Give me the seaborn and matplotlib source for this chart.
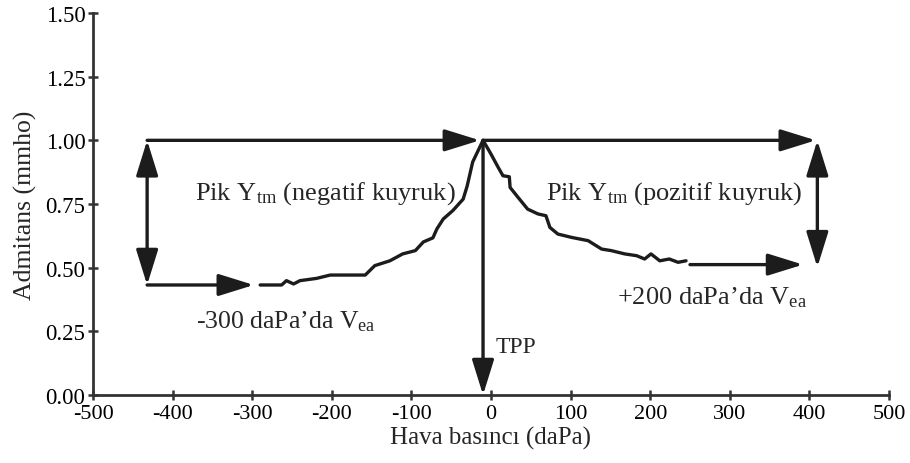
import numpy as np
import pandas as pd
import matplotlib
matplotlib.use("Agg")
import matplotlib.pyplot as plt
import seaborn as sns

# ---- data ----
pressure = [-290, -263, -257, -248, -240, -219, -202, -158, -146, -127, -111, -95, -85, -73,
            -68, -60, -48, -35, -30, -23, -10,
            0, 9, 15, 23, 24, 34, 46, 59, 69, 74, 84, 101, 122, 139, 151, 168, 183, 193,
            201, 212, 224, 235, 245]
admittance = [0.432, 0.432, 0.449, 0.436, 0.449, 0.458, 0.471, 0.471, 0.508, 0.527, 0.554, 0.567,
              0.601, 0.617, 0.652, 0.691, 0.724, 0.769, 0.82, 0.915, 1.0,
              0.946, 0.894, 0.861, 0.857, 0.815, 0.776, 0.730, 0.711, 0.704, 0.658, 0.632,
              0.619, 0.606, 0.573, 0.567, 0.554, 0.547, 0.534, 0.554, 0.527, 0.534, 0.521, 0.527]

xticks = [-500, -400, -300, -200, -100, 0, 100, 200, 300, 400, 500]
yticks = [0.00, 0.25, 0.50, 0.75, 1.00, 1.25, 1.50]

peak_p, peak_y = -10, 1.0          # TPP / peak admittance
neg_tail_p, neg_tail_y = -432, 0.432  # reference line on negative side
neg_arrow_end = -298
pos_tail_p, pos_tail_y = 402, 0.512   # reference line on positive side
pos_arrow_start = 250

xlabel = "Hava basıncı (daPa)"
ylabel = "Admitans (mmho)"
label_neg = "Pik Y$_{\\mathrm{tm}}$ (negatif kuyruk)"
label_pos = "Pik Y$_{\\mathrm{tm}}$ (pozitif kuyruk)"
label_neg_v = "-300 daPa’da V$_{\\mathrm{ea}}$"
label_pos_v = "+200 daPa’da V$_{\\mathrm{ea}}$"
label_tpp = "TPP"

sns.set_style("ticks")
plt.rcParams["font.family"] = ["Liberation Serif", "DejaVu Serif"]
plt.rcParams["mathtext.fontset"] = "custom"
plt.rcParams["mathtext.rm"] = "Liberation Serif"
plt.rcParams["mathtext.it"] = "Liberation Serif:italic"

fig = plt.figure(figsize=(9.1, 4.64), dpi=100)
ax = fig.add_axes([93 / 910, 68 / 464, 796 / 910, 382 / 464])

df = pd.DataFrame({"p": pressure, "y": admittance})
ink = "#1c1c1c"
sns.lineplot(data=df, x="p", y="y", ax=ax, color=ink, lw=2.4, sort=False,
             solid_joinstyle="round", solid_capstyle="round")

ax.set_xlim(-500, 500)
ax.set_ylim(0, 1.5)
ax.set_xticks(xticks)
ax.set_xticklabels([str(t) for t in xticks], fontsize=16)
ax.set_yticks(yticks)
ax.set_yticklabels([f"{t:.2f}" for t in yticks], fontsize=16.5)
ax.tick_params(axis="both", direction="inout", length=7, width=1.8, colors="#333333",
               labelcolor="black")
ax.tick_params(axis="x", pad=3)
ax.tick_params(axis="y", pad=2)
for s in ["top", "right"]:
    ax.spines[s].set_visible(False)
for s in ["left", "bottom"]:
    ax.spines[s].set_linewidth(2.0)
    ax.spines[s].set_color("#333333")
ax.set_xlabel(xlabel, fontsize=18, labelpad=2)
ax.set_ylabel(ylabel, fontsize=18.5, labelpad=6)

def arrow(x0, y0, x1, y1, both=False):
    style = "<|-|>" if both else "-|>"
    ax.annotate("", xy=(x1, y1), xytext=(x0, y0), xycoords="data",
                arrowprops=dict(arrowstyle=f"{style},head_length=0.9,head_width=0.28",
                                mutation_scale=24, lw=2.4, color=ink,
                                shrinkA=0, shrinkB=0), annotation_clip=False)

# top reference arrows
arrow(neg_tail_p, peak_y, peak_p - 4, peak_y)
arrow(peak_p, peak_y, pos_tail_p + 6, peak_y)
# vertical double arrows
arrow(neg_tail_p, peak_y, neg_tail_p, neg_tail_y, both=True)
arrow(pos_tail_p + 8, peak_y, pos_tail_p + 8, pos_tail_y - 0.01, both=True)
# bottom horizontal arrows
arrow(neg_tail_p, neg_tail_y, neg_arrow_end, neg_tail_y)
arrow(pos_arrow_start, pos_tail_y, pos_tail_p - 10, pos_tail_y)
# TPP arrow
arrow(peak_p, peak_y, peak_p, 0.0)

ax.text(-372, 0.795, label_neg, fontsize=19, va="center", ha="left")
ax.text(69, 0.795, label_pos, fontsize=19, va="center", ha="left")
ax.text(-371, 0.29, label_neg_v, fontsize=18.5, va="center", ha="left")
ax.text(158, 0.385, label_pos_v, fontsize=19, va="center", ha="left")
ax.text(6, 0.19, label_tpp, fontsize=17, va="center", ha="left")

fig.savefig("out.png", dpi=100)
